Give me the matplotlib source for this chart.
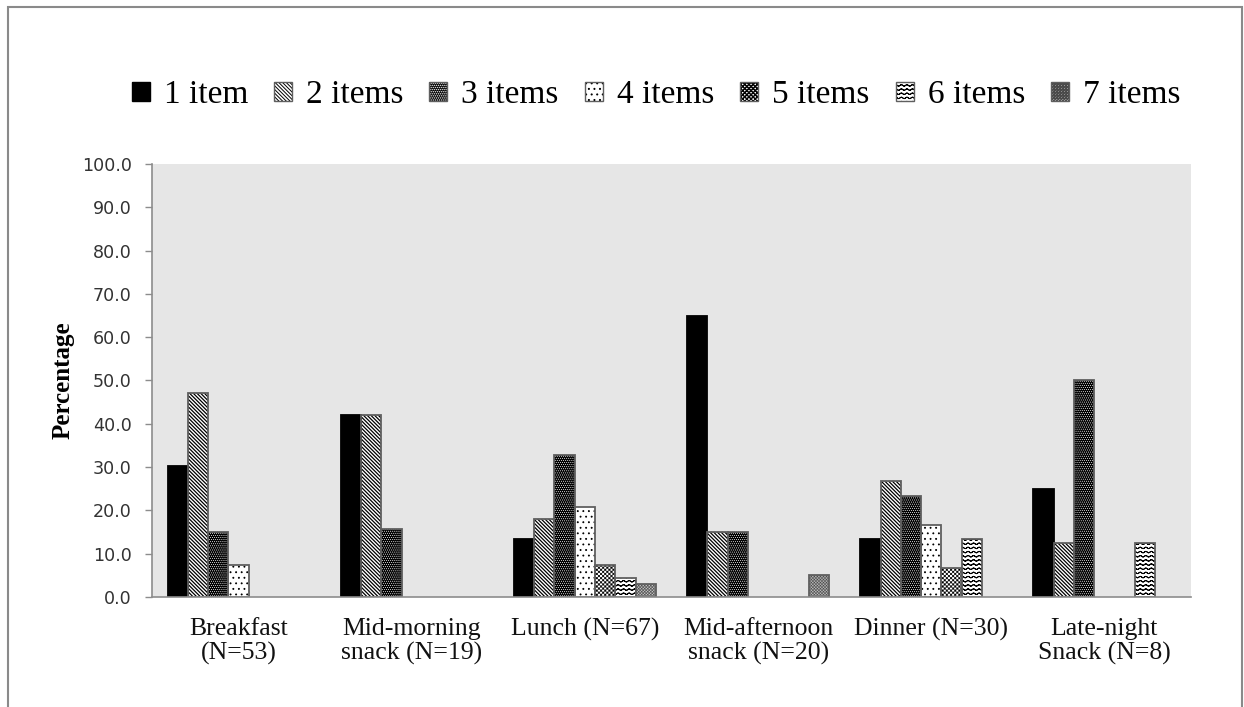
import numpy as np
import matplotlib
matplotlib.use("Agg")
import matplotlib.pyplot as plt
import matplotlib.hatch as mhatch
from matplotlib.path import Path
from matplotlib.patches import Rectangle
from matplotlib.legend_handler import HandlerTuple

# ---------------- data ----------------
categories = ["Breakfast\n(N=53)", "Mid-morning\nsnack (N=19)", "Lunch (N=67)",
              "Mid-afternoon\nsnack (N=20)", "Dinner (N=30)", "Late-night\nSnack (N=8)"]
series_labels = ["1 item", "2 items", "3 items", "4 items", "5 items", "6 items", "7 items"]

item1 = [30.2, 42.1, 13.4, 65.0, 13.3, 25.0]
item2 = [47.2, 42.1, 17.9, 15.0, 26.7, 12.5]
item3 = [15.1, 15.8, 32.8, 15.0, 23.3, 50.0]
item4 = [7.5, 0.0, 20.9, 0.0, 16.7, 0.0]
item5 = [0.0, 0.0, 7.5, 0.0, 6.7, 0.0]
item6 = [0.0, 0.0, 4.5, 0.0, 13.3, 12.5]
item7 = [0.0, 0.0, 3.0, 5.0, 0.0, 0.0]
series_values = [item1, item2, item3, item4, item5, item6, item7]

y_ticks = [0, 10, 20, 30, 40, 50, 60, 70, 80, 90, 100]


# ---------------- extra hatch patterns ----------------
class WaveHatch(mhatch.HatchPatternBase):
    """Horizontal wavy lines, selected with '~'."""
    pts = 161

    def __init__(self, hatch, density):
        self.num_lines = int(hatch.count("~") * density)
        self.num_vertices = self.num_lines * self.pts * 2

    def set_vertices_and_codes(self, vertices, codes):
        t = np.linspace(0.0, 1.0, self.pts)
        periods, amp = 18, 0.007
        n = 2 * self.pts
        for i in range(self.num_lines):
            y = (i + 0.5) / self.num_lines + amp * np.sin(2 * np.pi * periods * t)
            fwd = np.column_stack([t, y])
            # trace forward and back so the filled area is zero
            vertices[i * n:(i + 1) * n] = np.vstack([fwd, fwd[::-1]])
            codes[i * n:(i + 1) * n] = Path.LINETO
            codes[i * n] = Path.MOVETO


class CheckerHatch(mhatch.HatchPatternBase):
    """Small filled checkerboard squares, selected with '#'."""

    def __init__(self, hatch, density):
        n = int(hatch.count("#") * density)
        self.n = n + (n % 2)
        self.num_squares = (self.n * self.n) // 2 if n else 0
        self.num_vertices = self.num_squares * 5

    def set_vertices_and_codes(self, vertices, codes):
        c = 1.0 / self.n
        s = c * 0.8
        o = (c - s) / 2
        k = 0
        for i in range(self.n):
            for j in range(self.n):
                if (i + j) % 2:
                    continue
                x0, y0 = i * c + o, j * c + o
                vertices[k:k + 5] = [(x0, y0), (x0 + s, y0), (x0 + s, y0 + s),
                                     (x0, y0 + s), (x0, y0)]
                codes[k:k + 5] = [Path.MOVETO, Path.LINETO, Path.LINETO,
                                  Path.LINETO, Path.CLOSEPOLY]
                k += 5


mhatch._hatch_types.extend([WaveHatch, CheckerHatch])
mhatch._validate_hatch_pattern = lambda hatch: None

plt.rcParams["hatch.linewidth"] = 0.7

# face colour, hatch, hatch colour, hatch linewidth
styles = [
    ("black", None, "black", 0.7),
    ("white", "\\" * 9, "black", 0.9),
    ("black", "." * 8, "white", 0.4),
    ("white", "...", "black", 0.6),
    ("white", "#" * 8, "black", 0.3),
    ("white", "~~~~", "black", 0.7),
    ("#c4c4c4", "#" * 11, "#4a4a4a", 0.25),
]
outline_color = "#5f5f5f"

# ---------------- figure ----------------
fig = plt.figure(figsize=(12.44, 7.07), dpi=100)
ax = fig.add_axes([152 / 1244, 1 - 597 / 707, 1039 / 1244, 433 / 707])
ax.set_facecolor("#e6e6e6")

x = np.arange(len(categories))
n_series = len(series_values)
width = 0.82 / n_series

handles = []
for k, (vals, label, (fc, hatch, hc, hlw)) in enumerate(zip(series_values, series_labels, styles)):
    vals = np.asarray(vals, dtype=float)
    pos = x - 0.41 + width * (k + 0.5)
    shown = vals > 0
    fill = ax.bar(pos[shown], vals[shown], width=width, color=fc, hatch=hatch,
                  edgecolor=hc, linewidth=0, zorder=2)
    for p in fill.patches:
        if hasattr(p, "set_hatch_linewidth"):
            p.set_hatch_linewidth(hlw)
    ec = "black" if k == 0 else outline_color
    ax.bar(pos[shown], vals[shown], width=width, fill=False, edgecolor=ec,
           linewidth=1.3, zorder=3)
    h_fill = Rectangle((0, 0), 1, 1, facecolor=fc, hatch=hatch, edgecolor=hc, linewidth=0)
    if hasattr(h_fill, "set_hatch_linewidth"):
        h_fill.set_hatch_linewidth(hlw)
    h_edge = Rectangle((0, 0), 1, 1, fill=False, edgecolor=ec, linewidth=1.0)
    handles.append((h_fill, h_edge))

ax.set_xlim(-0.5, len(categories) - 0.5)
ax.set_ylim(0, 100)
ax.set_yticks(y_ticks)
ax.set_yticklabels([f"{v:.1f}" for v in y_ticks], fontsize=12.6, color="#333333",
                   family="DejaVu Sans")
ax.set_xticks(x)
ax.set_xticklabels(categories, fontsize=18.5, family="Liberation Serif",
                   linespacing=1.12, color="#111111")
ax.tick_params(axis="x", length=0, pad=15)
ax.tick_params(axis="y", length=5, color="#8c8c8c", width=1, pad=9.5)

for side in ("top", "right"):
    ax.spines[side].set_visible(False)
for side in ("left", "bottom"):
    ax.spines[side].set_color("#8c8c8c")
    ax.spines[side].set_linewidth(1.2)
ax.spines["bottom"].set_zorder(4)

ax.set_ylabel("Percentage", fontsize=18, fontweight="bold",
              family="Liberation Serif", labelpad=5)

fig.legend(handles, series_labels, handler_map={tuple: HandlerTuple(ndivide=1, pad=0)},
           loc="center", bbox_to_anchor=(656 / 1244, 1 - 95 / 707), ncol=7,
           frameon=False, prop={"family": "Liberation Serif", "size": 24},
           handlelength=0.54, handleheight=0.54, handletextpad=0.42,
           columnspacing=0.78)

# outer frame of the chart area
fig.patches.append(Rectangle((8 / 1244, -0.05), 1233.5 / 1244, 1 - 7 / 707 + 0.05,
                             transform=fig.transFigure, fill=False,
                             edgecolor="#8a8a8a", linewidth=1.5, zorder=0))

fig.savefig("out.png", dpi=100)
